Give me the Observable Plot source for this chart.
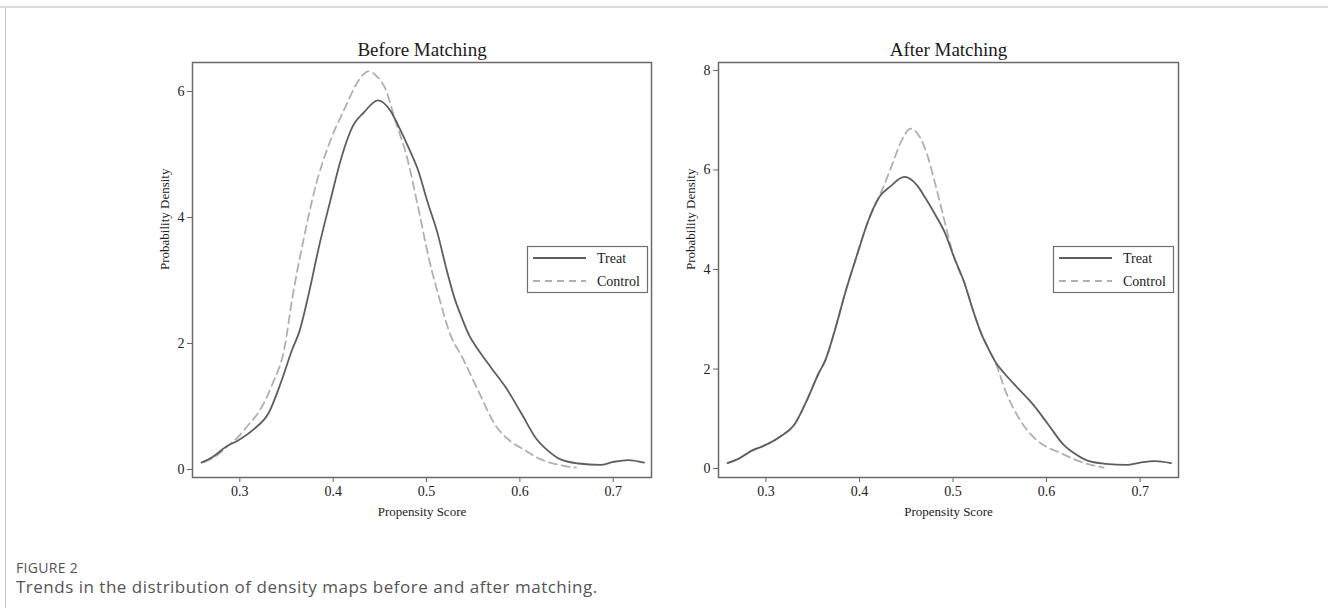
<!DOCTYPE html>
<html><head><meta charset="utf-8">
<script src="https://cdn.jsdelivr.net/npm/d3@7"></script>
<script src="https://cdn.jsdelivr.net/npm/@observablehq/plot@0.6"></script>
<style>
html,body{margin:0;padding:0;background:#fff;}
#page{position:relative;width:1328px;height:608px;overflow:hidden;background:#fff;}
#topline{position:absolute;left:0;top:6px;width:1328px;height:2px;background:#dcdcdc;}
#leftline{position:absolute;left:5px;top:8px;width:1px;height:600px;background:#c8c8c8;}
.panel{position:absolute;top:0;}
#fig{position:absolute;left:16px;top:558px;font-family:"Open Sans";font-size:14px;letter-spacing:0.3px;color:#555;white-space:nowrap;}
#cap{position:absolute;left:16px;top:575px;font-family:"Open Sans";font-size:17px;letter-spacing:0.5px;color:#555;white-space:nowrap;}
</style></head>
<body><div id="page">
<div id="topline"></div><div id="leftline"></div>
<div id="left" class="panel" style="left:0"></div>
<div id="right" class="panel" style="left:664px"></div>
<div id="fig">FIGURE 2</div>
<div id="cap">Trends in the distribution of density maps before and after matching.</div>
</div>
<script>
const xTicks = [0.3, 0.4, 0.5, 0.6, 0.7];
const yTicksBefore = [0, 2, 4, 6];
const yTicksAfter = [0, 2, 4, 6, 8];
const seriesNames = ["Treat", "Control"];
const titles = ["Before Matching", "After Matching"];

const treatX = [0.259,0.270,0.286,0.298,0.315,0.331,0.344,0.356,0.364,0.374,0.385,0.397,0.409,0.421,0.433,0.448,0.462,0.470,0.481,0.491,0.501,0.512,0.521,0.530,0.538,0.546,0.555,0.569,0.585,0.602,0.618,0.630,0.643,0.663,0.686,0.700,0.716,0.733];
const treatY = [0.11,0.19,0.37,0.46,0.64,0.90,1.38,1.90,2.20,2.80,3.55,4.27,4.96,5.45,5.67,5.86,5.68,5.45,5.10,4.75,4.25,3.74,3.20,2.72,2.40,2.12,1.91,1.62,1.30,0.88,0.48,0.30,0.165,0.095,0.072,0.12,0.15,0.11];

const controlBeforeX = [0.262,0.275,0.286,0.297,0.307,0.323,0.335,0.348,0.356,0.368,0.380,0.397,0.413,0.425,0.438,0.446,0.456,0.4665,0.479,0.491,0.503,0.514,0.524,0.540,0.557,0.573,0.589,0.606,0.622,0.643,0.660];
const controlBeforeY = [0.12,0.22,0.36,0.50,0.67,0.98,1.36,1.94,2.70,3.63,4.43,5.22,5.75,6.12,6.32,6.25,6.04,5.54,4.96,4.16,3.32,2.70,2.20,1.73,1.20,0.72,0.46,0.30,0.165,0.07,0.03];

const controlAfterX = [0.259,0.270,0.286,0.298,0.315,0.331,0.344,0.356,0.364,0.374,0.385,0.397,0.409,0.4224,0.434,0.445,0.455,0.4645,0.472,0.480,0.489,0.499,0.505,0.512,0.521,0.530,0.538,0.546,0.556,0.568,0.583,0.598,0.614,0.629,0.644,0.661];
const controlAfterY = [0.11,0.19,0.37,0.46,0.64,0.90,1.38,1.90,2.20,2.80,3.55,4.27,4.96,5.52,6.06,6.59,6.83,6.66,6.33,5.79,5.12,4.38,4.04,3.74,3.20,2.72,2.40,2.10,1.56,1.09,0.69,0.457,0.32,0.19,0.09,0.02];

const treatColor = "#5e5e5e";
const controlColor = "#b0b0b0";

function toRows(xs, ys) { return xs.map((x, i) => ({x, y: ys[i]})); }

function panel(el, {title, cx, cy, yDomain, yTicks, width, marginLeft, marginRight, legendX}) {
  const treat = toRows(treatX, treatY);
  const control = toRows(cx, cy);
  const plot = Plot.plot({
    width, height: 540,
    marginLeft, marginRight, marginTop: 62, marginBottom: 63,
    style: {fontFamily: "Liberation Serif", fontSize: "13px", color: "#333", background: "transparent", overflow: "visible"},
    x: {domain: [0.2493, 0.741]},
    y: {domain: yDomain},
    marks: [
      Plot.axisX({ticks: xTicks, tickSize: 5, tickPadding: 4, label: null, tickFormat: d3.format(".1f"), stroke: "#666", fill: "#222"}),
      Plot.axisY({ticks: yTicks, tickSize: 5, tickPadding: 3, label: null, tickFormat: d3.format("d"), stroke: "#666", fill: "#222"}),
      Plot.line(control, {x: "x", y: "y", stroke: controlColor, strokeWidth: 1.8, strokeDasharray: "8,5", curve: "monotone-x"}),
      Plot.line(treat, {x: "x", y: "y", stroke: treatColor, strokeWidth: 1.8, curve: "monotone-x"}),
      Plot.frame({stroke: "#6a6a6a", strokeWidth: 1.5}),
      Plot.text([title], {text: d => d, frameAnchor: "top", dy: -7, lineAnchor: "bottom", fontSize: 19, fill: "#1a1a1a"}),
      Plot.text(["Propensity Score"], {text: d => d, frameAnchor: "bottom", dy: 38, lineAnchor: "bottom", fontSize: 13, fill: "#222"}),
      Plot.text(["Probability Density"], {text: d => d, frameAnchor: "left", dx: -24, rotate: -90, lineAnchor: "bottom", fontSize: 13, fill: "#222"})
    ]
  });
  const svg = d3.select(plot);
  svg.selectAll("g[aria-label$='tick label']").attr("font-size", 14).style("font-size", "14px");
  const g = svg.append("g");
  g.append("rect").attr("x", legendX + 0.5).attr("y", 246.5).attr("width", 120).attr("height", 46)
    .attr("fill", "#fff").attr("stroke", "#707070").attr("stroke-width", 1.2);
  g.append("line").attr("x1", legendX + 6).attr("x2", legendX + 59).attr("y1", 258).attr("y2", 258)
    .attr("stroke", treatColor).attr("stroke-width", 1.8);
  g.append("line").attr("x1", legendX + 6).attr("x2", legendX + 59).attr("y1", 281).attr("y2", 281)
    .attr("stroke", controlColor).attr("stroke-width", 1.8).attr("stroke-dasharray", "7,5");
  g.append("text").attr("x", legendX + 70).attr("y", 262.5).text(seriesNames[0]).attr("text-anchor", "start")
    .attr("font-family", "Liberation Serif").attr("font-size", 14).attr("fill", "#222");
  g.append("text").attr("x", legendX + 70).attr("y", 285.5).text(seriesNames[1]).attr("text-anchor", "start")
    .attr("font-family", "Liberation Serif").attr("font-size", 14).attr("fill", "#222");
  document.getElementById(el).appendChild(plot);
}

panel("left", {title: titles[0], cx: controlBeforeX, cy: controlBeforeY, yDomain: [-0.127, 6.46], yTicks: yTicksBefore,
  width: 664, marginLeft: 192, marginRight: 13, legendX: 527});
panel("right", {title: titles[1], cx: controlAfterX, cy: controlAfterY, yDomain: [-0.18, 8.16], yTicks: yTicksAfter,
  width: 664, marginLeft: 54, marginRight: 150, legendX: 389});
</script>
</body></html>
